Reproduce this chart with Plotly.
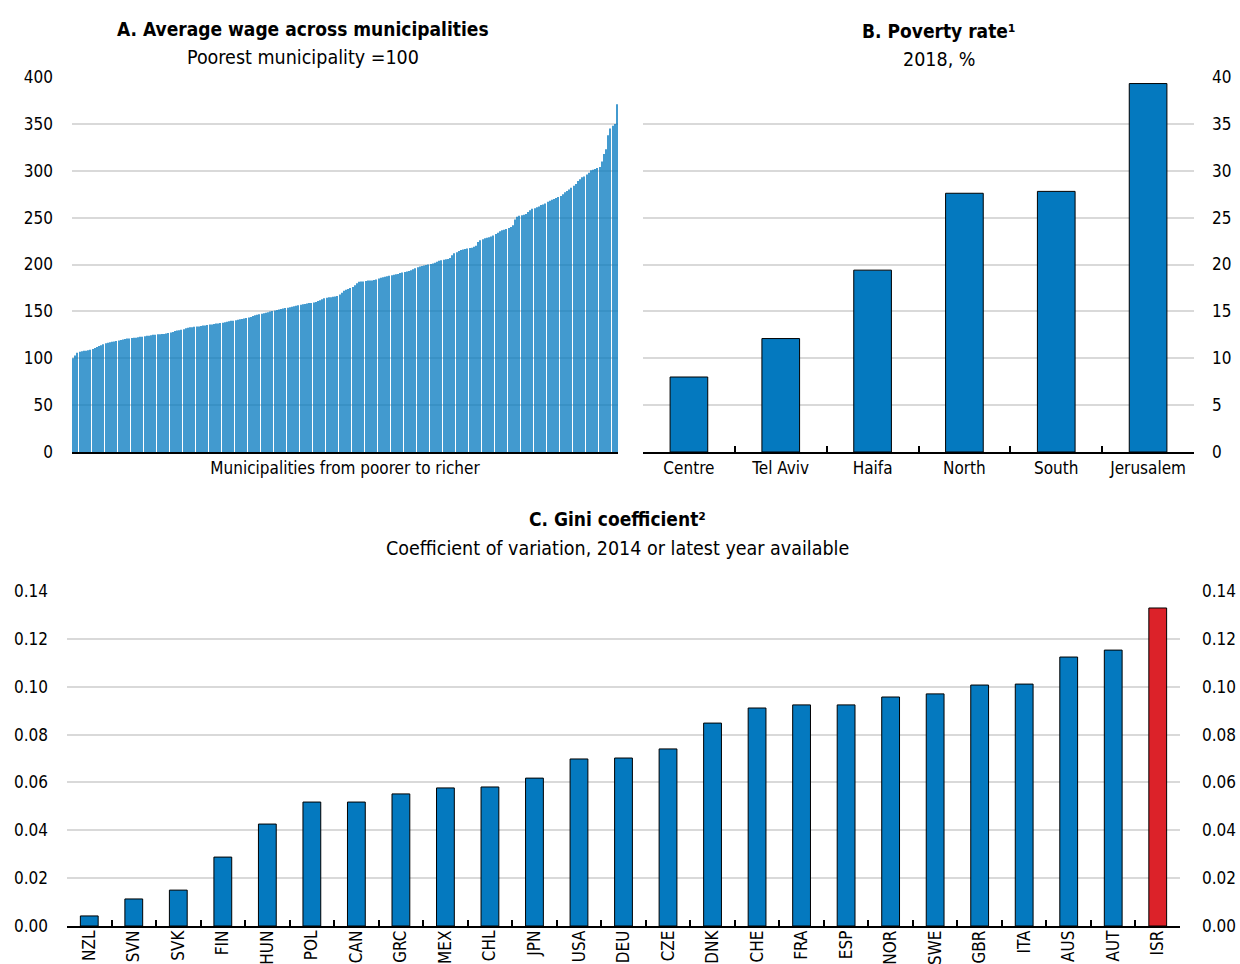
import plotly.graph_objects as go

W, H = 1240, 964


def px(x):
    return x / W


def py(y):
    return 1 - y / H


# Panel A: average wage by municipality (poorest = 100), sorted
wage = [
    100, 103, 106, 107, 107.5, 108, 108, 108.5, 109, 110,
    111, 112, 113, 114, 115, 116, 116.5, 117, 117.5, 118,
    118.5, 119, 119.5, 120, 120.5, 121, 121, 121.5, 122, 122,
    122.5, 123, 123, 123.5, 124, 124, 124.5, 125, 125, 125.5,
    125.5, 126, 126, 126.5, 127, 127.5, 128, 129, 129.5, 130,
    130.5, 131, 132, 132.5, 133, 133, 133.5, 134, 134, 134.5,
    135, 135, 135.5, 136, 136, 136.5, 137, 137, 137.5, 138,
    138.5, 139, 139.5, 140, 140, 140.5, 141, 141.5, 142, 142.5,
    143, 143.5, 144, 145, 146, 146.5, 147, 147.5, 148, 148.5,
    149, 150, 150.5, 151, 151.5, 152, 152.5, 153, 153.5, 154,
    154.5, 155, 155.5, 156, 156.5, 157, 157.5, 158, 158.5, 159,
    159, 159.5, 160, 161, 162, 163, 164, 164.5, 165, 165,
    165.5, 166, 166.5, 168, 170, 172, 173, 174, 175, 176,
    178, 180, 181.5, 182, 182, 182.5, 183, 183, 183, 183.5,
    184, 185, 186, 186.5, 187, 187.5, 188, 188.5, 189, 189.5,
    190, 191, 191.5, 192, 192.5, 193, 194, 195, 196, 197,
    198, 198.5, 199, 199.5, 200, 200.5, 201, 202, 203, 204,
    204.5, 205, 205.5, 206, 207, 210, 212, 213, 214.5, 215.5,
    216, 216.5, 217, 217.5, 218, 219, 220, 224, 226, 227,
    228, 228.5, 229, 230, 231, 232.5, 234, 235.5, 236.5, 237,
    238, 239, 240, 242, 248, 251, 252, 252.5, 253, 254,
    256, 258, 259.5, 260, 261, 262, 263.5, 264, 265, 267,
    268, 269, 270, 271, 272, 273, 275, 277, 278.5, 280,
    282, 284, 286, 289, 291, 293, 294, 296, 298, 300.5,
    301, 302, 303, 304, 310, 318, 323, 338, 345, 348,
    350, 371,
]
municipality_rank = list(range(1, len(wage) + 1))

# Panel B: poverty rate by region, 2018, %
regions = ["Centre", "Tel Aviv", "Haifa", "North", "South", "Jerusalem"]
poverty = [8.0, 12.1, 19.4, 27.6, 27.8, 39.3]

# Panel C: Gini coefficient (coefficient of variation)
countries = ["NZL", "SVN", "SVK", "FIN", "HUN", "POL", "CAN", "GRC", "MEX", "CHL",
             "JPN", "USA", "DEU", "CZE", "DNK", "CHE", "FRA", "ESP", "NOR", "SWE",
             "GBR", "ITA", "AUS", "AUT", "ISR"]
gini = [0.0042, 0.0113, 0.0150, 0.0288, 0.0426, 0.0518, 0.0518, 0.0552, 0.0577, 0.0581,
        0.0618, 0.0698, 0.0702, 0.0740, 0.0848, 0.0911, 0.0924, 0.0924, 0.0957, 0.0970,
        0.1007, 0.1011, 0.1124, 0.1153, 0.1329]

FONT = "DejaVu Sans Condensed, Liberation Sans Narrow, Arial Narrow, Liberation Sans, sans-serif"
BLUE = "#0479bf"
RED = "#dc2229"
GRID = "#d9d9d9"
TICKFONT = dict(family=FONT, size=17, color="black")

fig = go.Figure()
fig.add_bar(x=municipality_rank, y=wage, width=0.5,
            marker=dict(color=BLUE, line=dict(width=0)), opacity=0.75,
            xaxis="x", yaxis="y", showlegend=False)
fig.add_bar(x=regions, y=poverty, width=0.41,
            marker=dict(color=BLUE, line=dict(color="black", width=1)),
            xaxis="x2", yaxis="y2", showlegend=False)
fig.add_bar(x=countries, y=gini, width=0.4,
            marker=dict(color=[RED if c == "ISR" else BLUE for c in countries],
                        line=dict(color="black", width=1)),
            xaxis="x3", yaxis="y3", showlegend=False)
fig.add_scatter(x=countries, y=gini, mode="markers", marker=dict(opacity=0),
                xaxis="x3", yaxis="y4", showlegend=False, hoverinfo="skip")

common = dict(automargin=False)
fig.update_layout(
    width=W, height=H,
    margin=dict(l=0, r=0, t=0, b=0, pad=0, autoexpand=False),
    paper_bgcolor="white", plot_bgcolor="white",
    font=dict(family=FONT, size=17, color="black"),
    barmode="overlay",
    xaxis=dict(domain=[px(72), px(618)], anchor="y",
               range=[0.5, len(wage) + 0.5],
               showticklabels=False, ticks="", showgrid=False, zeroline=False,
               showline=True, linecolor="black", linewidth=2,
               title=dict(text="Municipalities from poorer to richer",
                          font=dict(family=FONT, size=17), standoff=9), **common),
    yaxis=dict(domain=[py(452), py(77)], anchor="x", range=[0, 400], dtick=50,
               showgrid=True, gridcolor=GRID, gridwidth=1.5, zeroline=False,
               showline=False, ticks="", tickfont=TICKFONT, ticklabelstandoff=18,
               **common),
    xaxis2=dict(domain=[px(643), px(1194)], anchor="y2", range=[-0.5, 5.5],
                showgrid=False, zeroline=False, showline=True, linecolor="black",
                linewidth=1.5, ticks="inside", ticklen=6, tickwidth=1.5,
                tickcolor="black", tickson="boundaries", tickangle=0,
                tickfont=TICKFONT, **common),
    yaxis2=dict(domain=[py(452), py(77)], anchor="x2", side="right",
                range=[0, 40], dtick=5, showgrid=True, gridcolor=GRID,
                gridwidth=1.5, zeroline=False, showline=False, ticks="",
                tickfont=TICKFONT, ticklabelstandoff=17, **common),
    xaxis3=dict(domain=[px(67), px(1180)], anchor="y3", range=[-0.5, 24.5],
                showgrid=False, zeroline=False, showline=True, linecolor="black",
                linewidth=1.5, ticks="inside", ticklen=6, tickwidth=1.5,
                tickcolor="black", tickson="boundaries", tickangle=-90,
                tickfont=TICKFONT, ticklabelstandoff=-4, **common),
    yaxis3=dict(domain=[py(926), py(591)], anchor="x3", range=[0, 0.14],
                dtick=0.02, tickformat=".2f", showgrid=True, gridcolor=GRID,
                gridwidth=1.5, zeroline=False, showline=False, ticks="",
                tickfont=TICKFONT, ticklabelstandoff=18, **common),
    yaxis4=dict(overlaying="y3", anchor="x3", side="right", range=[0, 0.14],
                dtick=0.02, tickformat=".2f", showgrid=False, zeroline=False,
                showline=False, ticks="", tickfont=TICKFONT,
                ticklabelstandoff=21, **common),
)

annotations = [
    ("<b>A. Average wage across municipalities</b>", 303, 29, 19),
    ("Poorest municipality =100", 303, 57, 19.5),
    ("<b>B. Poverty rate¹</b>", 939, 31, 19),
    ("2018, %", 939, 59, 19.5),
    ("<b>C. Gini coefficient²</b>", 617, 519, 19),
    ("Coefficient of variation, 2014 or latest year available", 617, 548, 19.5),
]
for text, x, y, size in annotations:
    fig.add_annotation(text=text, x=px(x), y=py(y), xref="paper", yref="paper",
                       xanchor="center", yanchor="middle", showarrow=False,
                       font=dict(family=FONT, size=size, color="black"))

post = (
    "document.body.style.margin='0';document.body.style.padding='0';"
    "var gd=document.getElementById('{plot_id}');"
    "gd.style.position='absolute';gd.style.left='0px';gd.style.top='0px';"
)
fig.write_html("out.html", post_script=post, config={"displayModeBar": False})
